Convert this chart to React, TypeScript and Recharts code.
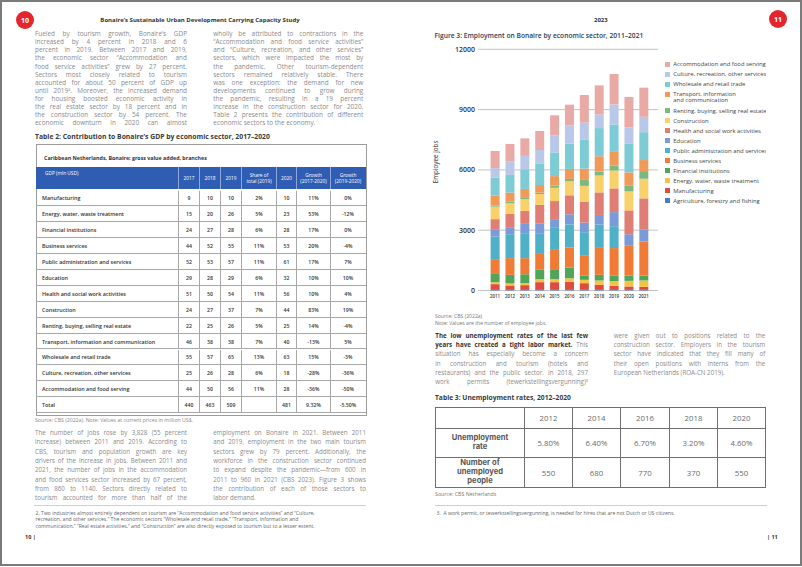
import React from 'react';
import { BarChart, Bar, XAxis, YAxis, CartesianGrid, Legend } from 'recharts';

// ---------- Figure 3 data (employee jobs) ----------
const years = ['2011', '2012', '2013', '2014', '2015', '2016', '2017', '2018', '2019', '2020', '2021'];
const agriculture = [30, 30, 30, 30, 30, 30, 30, 30, 30, 30, 30];
const manufacturing = [285, 220, 235, 385, 385, 410, 335, 250, 200, 170, 150];
const energy = [100, 100, 100, 150, 150, 170, 165, 220, 235, 280, 320];
const financial = [445, 430, 445, 465, 495, 530, 200, 280, 265, 265, 245];
const business = [665, 830, 800, 830, 960, 1000, 995, 1340, 1380, 1480, 1695];
const publicAdmin = [1165, 1190, 1240, 960, 1130, 1150, 1175, 1160, 1090, 0, 0];
const education = [330, 350, 465, 500, 400, 500, 480, 480, 700, 575, 600];
const health = [530, 660, 645, 940, 900, 945, 1025, 1120, 1180, 1185, 1545];
const construction = [620, 530, 580, 540, 660, 700, 800, 840, 890, 945, 975];
const renting = [60, 85, 65, 70, 110, 115, 330, 200, 250, 280, 380];
const transport = [490, 445, 450, 380, 470, 500, 530, 760, 710, 665, 550];
const wholesale = [900, 880, 975, 1050, 1160, 1260, 1430, 1400, 1330, 1425, 1385];
const culture = [470, 660, 665, 690, 860, 900, 860, 680, 995, 815, 765];
const accommodation = [850, 880, 875, 945, 1005, 1035, 1370, 1445, 1515, 1510, 1450];
const yTicks = [0, 3000, 6000, 9000, 12000];

const seriesValues: Record<string, number[]> = {
  agriculture, manufacturing, energy, financial, business, publicAdmin, education,
  health, construction, renting, transport, wholesale, culture, accommodation,
};

const series = [
  { key: 'agriculture', name: 'Agriculture, forestry and fishing', color: '#4a7acb' },
  { key: 'manufacturing', name: 'Manufacturing', color: '#de4b3f' },
  { key: 'energy', name: 'Energy, water, waste treatment', color: '#f6c244' },
  { key: 'financial', name: 'Financial institutions', color: '#4fa65b' },
  { key: 'business', name: 'Business services', color: '#ef7b37' },
  { key: 'publicAdmin', name: 'Public administration and services', color: '#4fb1c7' },
  { key: 'education', name: 'Education', color: '#7a9bd7' },
  { key: 'health', name: 'Health and social work activities', color: '#e07d74' },
  { key: 'construction', name: 'Construction', color: '#f9d16a' },
  { key: 'renting', name: 'Renting, buying, selling real estate', color: '#7db87f' },
  { key: 'transport', name: 'Transport, information|and communication', color: '#f19a57' },
  { key: 'wholesale', name: 'Wholesale and retail trade', color: '#7dcbd5' },
  { key: 'culture', name: 'Culture, recreation, other services', color: '#b9c8e8' },
  { key: 'accommodation', name: 'Accommodation and food serving', color: '#e9aaa6' },
];

const chartData = years.map((y, i) => {
  const row: Record<string, any> = { year: y };
  series.forEach((s) => { row[s.key] = seriesValues[s.key][i]; });
  return row;
});

// ---------- Table 2 data ----------
const gdpSectors = ['Manufacturing', 'Energy, water, waste treatment', 'Financial institutions', 'Business services',
  'Public administration and services', 'Education', 'Health and social work activities', 'Construction',
  'Renting, buying, selling real estate', 'Transport, information and communication', 'Wholesale and retail trade',
  'Culture, recreation, other services', 'Accommodation and food serving', 'Total'];
const gdp2017 = ['9', '15', '24', '44', '52', '29', '51', '24', '22', '46', '55', '25', '44', '440'];
const gdp2018 = ['10', '20', '27', '52', '53', '28', '50', '27', '25', '38', '57', '26', '50', '463'];
const gdp2019 = ['10', '26', '28', '55', '57', '29', '54', '37', '26', '38', '65', '28', '56', '509'];
const share2019 = ['2%', '5%', '6%', '11%', '11%', '6%', '11%', '7%', '5%', '7%', '13%', '6%', '11%', ''];
const gdp2020 = ['10', '23', '28', '53', '61', '32', '56', '44', '25', '40', '63', '18', '28', '481'];
const growth1720 = ['11%', '53%', '17%', '20%', '17%', '10%', '10%', '83%', '14%', '-13%', '15%', '-28%', '-36%', '9.32%'];
const growth1920 = ['0%', '-12%', '0%', '-4%', '7%', '10%', '4%', '19%', '-4%', '5%', '-3%', '-36%', '-50%', '-5.50%'];
const gdpHeaders = ['GDP (mln USD)', '2017', '2018', '2019', 'Share of|total (2019)', '2020', 'Growth|(2017-2020)', 'Growth|(2019-2020)'];

// ---------- Table 3 data ----------
const unempYears = ['2012', '2014', '2016', '2018', '2020'];
const unempRate = ['5.80%', '6.40%', '6.70%', '3.20%', '4.60%'];
const unempPeople = ['550', '680', '770', '370', '550'];

// ---------- Texts ----------
const textTopLeft = [
  'Fueled by tourism growth, Bonaire\u2019s GDP',
  'increased by 4 percent in 2018 and 6',
  'percent in 2019. Between 2017 and 2019,',
  'the economic sector \u201cAccommodation and',
  'food service activities\u201d grew by 27 percent.',
  'Sectors most closely related to tourism',
  'accounted for about 50 percent of GDP up',
  'until 2019\u00b2. Moreover, the increased demand',
  'for housing boosted economic activity in',
  'the real estate sector by 18 percent and in',
  'the construction sector by 54 percent. The',
  'economic downturn in 2020 can almost',
];
const textTopRight = [
  'wholly be attributed to contractions in the',
  '\u201cAccommodation and food service activities\u201d',
  'and \u201cCulture, recreation, and other services\u201d',
  'sectors, which were impacted the most by',
  'the pandemic. Other tourism-dependent',
  'sectors remained relatively stable. There',
  'was one exception: the demand for new',
  'developments continued to grow during',
  'the pandemic, resulting in a 19 percent',
  'increase in the construction sector for 2020.',
  'Table 2 presents the contribution of different',
  'economic sectors to the economy.',
];
const textBottomLeft = [
  'The number of jobs rose by 3,828 (55 percent',
  'increase) between 2011 and 2019. According to',
  'CBS, tourism and population growth are key',
  'drivers of the increase in jobs. Between 2011 and',
  '2021, the number of jobs in the accommodation',
  'and food services sector increased by 67 percent,',
  'from 860 to 1140. Sectors directly related to',
  'tourism accounted for more than half of the',
];
const textBottomRight = [
  'employment on Bonaire in 2021. Between 2011',
  'and 2019, employment in the two main tourism',
  'sectors grew by 79 percent. Additionally, the',
  'workforce in the construction sector continued',
  'to expand despite the pandemic\u2014from 600 in',
  '2011 to 960 in 2021 (CBS 2023). Figure 3 shows',
  'the contribution of each of those sectors to',
  'labor demand.',
];
const textP11Left = [
  '^The ^low ^unemployment ^rates ^of ^the ^last ^few',
  '^years ^have ^created ^a ^tight ^labor ^market. This',
  'situation has especially become a concern',
  'in construction and tourism (hotels and',
  'restaurants) and the public sector. In 2018, 297',
  'work permits (tewerkstellingsvergunning)\u00b3',
];
const textP11Right = [
  'were given out to positions related to the',
  'construction sector. Employers in the tourism',
  'sector have indicated that they fill many of',
  'their open positions with interns from the',
  'European Netherlands (ROA-CN 2019).',
];
const footLeft = [
  '2. Two industries almost entirely dependent on tourism are \u201cAccommodation and food service activities\u201d and \u201cCulture,',
  'recreation, and other services.\u201d The economic sectors \u201cWholesale and retail trade,\u201d \u201cTransport, information and',
  'communication,\u201d \u201cReal estate activities,\u201d and \u201cConstruction\u201d are also directly exposed to tourism but to a lesser extent.',
];

const FONT = "'Open Sans', sans-serif";

function renderWord(w: string) {
  if (w.startsWith('^')) return <b style={{ color: '#333', fontWeight: 700 }}>{w.slice(1)}</b>;
  return w;
}

function TextLine({ text, justify, lh }: { text: string; justify: boolean; lh: number }) {
  const words = text.split(' ');
  if (!justify) {
    return (
      <div style={{ whiteSpace: 'nowrap', height: lh }}>
        {words.map((w, i) => <React.Fragment key={i}>{i > 0 ? ' ' : ''}{renderWord(w)}</React.Fragment>)}
      </div>
    );
  }
  return (
    <div style={{ display: 'flex', justifyContent: 'space-between', whiteSpace: 'nowrap', height: lh }}>
      {words.map((w, i) => <span key={i}>{renderWord(w)}</span>)}
    </div>
  );
}

function Para({ lines, left, top, width, lh, fs, color = '#8a8a8a', lastJustify = false }:
  { lines: string[]; left: number; top: number; width: number; lh: number; fs: number; color?: string; lastJustify?: boolean }) {
  return (
    <div style={{ position: 'absolute', left, top, width, fontSize: fs, lineHeight: `${lh}px`, color }}>
      {lines.map((ln, i) => (
        <TextLine key={i} text={ln} lh={lh} justify={lastJustify || i < lines.length - 1} />
      ))}
    </div>
  );
}

function Abs({ left, top, children, style }: { left: number; top: number; children: any; style?: React.CSSProperties }) {
  return <div style={{ position: 'absolute', left, top, whiteSpace: 'nowrap', ...style }}>{children}</div>;
}

function Circle({ cx, cy, label }: { cx: number; cy: number; label: string }) {
  const d = 18;
  return (
    <div style={{
      position: 'absolute', left: cx - d / 2, top: cy - d / 2, width: d, height: d, borderRadius: '50%',
      background: '#e3262d', color: '#fff', fontSize: 7, fontWeight: 700, display: 'flex',
      alignItems: 'center', justifyContent: 'center',
    }}>{label}</div>
  );
}

function YLabel(props: any) {
  const vb = props.viewBox || { x: 0, y: 0, width: 0, height: 0 };
  const cx = vb.x + 5.5;
  const cy = vb.y + vb.height / 2 - 8;
  return (
    <text x={cx} y={cy} transform={`rotate(-90 ${cx} ${cy})`} textAnchor="middle" dominantBaseline="central"
      fontSize={6.3} fill="#333" fontFamily={FONT}>Employee jobs</text>
  );
}

function LegendBox() {
  const items = [...series].reverse();
  return (
    <div style={{ width: 101, overflow: 'hidden', fontFamily: FONT, fontSize: 5.9, color: '#444' }}>
      {items.map((s) => {
        const parts = s.name.split('|');
        return (
          <div key={s.key} style={{ display: 'flex', alignItems: 'flex-start', height: parts.length > 1 ? 16.7 : 10 }}>
            <div style={{ width: 5, height: 5, background: s.color, marginTop: 2.5, flex: '0 0 5px' }} />
            <div style={{ marginLeft: 3.3, lineHeight: parts.length > 1 ? '6.7px' : '10px', whiteSpace: 'nowrap', marginTop: parts.length > 1 ? 1.7 : 0 }}>
              {parts.map((p, i) => <div key={i}>{p}</div>)}
            </div>
          </div>
        );
      })}
    </div>
  );
}

function Figure3() {
  return (
    <div style={{ position: 'absolute', left: 430, top: 40 }}>
      <BarChart width={372} height={270} data={chartData} margin={{ top: 9.3, right: 144, bottom: 0, left: 0 }}>
        <CartesianGrid vertical={false} stroke="#c2c2c2" strokeWidth={1} />
        <XAxis dataKey="year" height={19.5} tickLine={false} axisLine={false} tickSize={0} tickMargin={4}
          padding={{ left: 9.6, right: 6.8 }} interval={0}
          tick={{ fontSize: 4.4, fill: '#333', fontWeight: 600, fontFamily: FONT }} />
        <YAxis width={48} domain={[0, 12000]} ticks={yTicks} tickLine={false} axisLine={false} tickSize={0}
          tickMargin={3} interval={0} tick={{ fontSize: 7, fill: '#333', fontWeight: 600, fontFamily: FONT }}
          label={<YLabel />} />
        <Legend layout="vertical" align="center" verticalAlign="middle"
          wrapperStyle={{ left: 235, top: 19, width: 101, height: 186 }} content={() => <LegendBox />} />
        {series.map((s) => (
          <Bar key={s.key} dataKey={s.key} name={s.name} stackId="a" fill={s.color} barSize={9}
            isAnimationActive={false} />
        ))}
      </BarChart>
    </div>
  );
}

function Table2() {
  const cols = [36, 178, 199, 220, 241, 276, 296, 330, 365];
  const cols2 = [gdp2017, gdp2018, gdp2019, share2019, gdp2020, growth1720, growth1920];
  const headTop = 167;
  const headBottom = 189;
  const rowTop = 190.5;
  const rowH = 15.9;
  const line = '#a8a8a8';
  return (
    <>
      <div style={{ position: 'absolute', left: 36, top: 144, width: 329, height: 269.5, border: '1px solid #9c9c9c', background: '#fff' }} />
      <Abs left={44} top={154.5} style={{ fontSize: 5.3, fontWeight: 700, color: '#333', lineHeight: '7px' }}>
        Caribbean Netherlands, Bonaire; gross value added, branches
      </Abs>
      <div style={{ position: 'absolute', left: cols[0], top: headTop, width: cols[8] - cols[0] + 1, height: headBottom - headTop, background: '#2f5db3' }} />
      {gdpHeaders.map((h, i) => {
        const parts = h.split('|');
        const l = cols[i];
        const w = cols[i + 1] - cols[i];
        return (
          <div key={i} style={{
            position: 'absolute', left: l, top: headTop, width: w, height: headBottom - headTop,
            borderLeft: i > 0 ? '1px solid #8fa7d8' : 'none', boxSizing: 'border-box',
            color: '#fff', fontSize: 4.8, fontWeight: 500, lineHeight: '6.3px',
            display: 'flex', flexDirection: 'column', justifyContent: i === 0 ? 'flex-start' : 'center',
            alignItems: i === 0 ? 'flex-start' : 'center', paddingLeft: i === 0 ? 9 : 0, paddingTop: i === 0 ? 2.5 : 0,
          }}>
            {parts.map((p, j) => <div key={j} style={{ whiteSpace: 'nowrap' }}>{p}</div>)}
          </div>
        );
      })}
      {gdpSectors.map((s, r) => {
        const top = rowTop + r * rowH;
        return (
          <React.Fragment key={r}>
            <div style={{ position: 'absolute', left: cols[0], top, width: cols[8] - cols[0] + 1, height: rowH, borderBottom: `1px solid ${line}`, boxSizing: 'border-box' }} />
            <div style={{ position: 'absolute', left: 42, top, height: rowH, display: 'flex', alignItems: 'center', fontSize: 5.4, fontWeight: 600, color: '#333', whiteSpace: 'nowrap' }}>{s}</div>
            {cols2.map((c, ci) => (
              <div key={ci} style={{
                position: 'absolute', left: cols[ci + 1], top, width: cols[ci + 2] - cols[ci + 1], height: rowH,
                borderLeft: `1px solid ${line}`, boxSizing: 'border-box', display: 'flex', alignItems: 'center',
                justifyContent: 'center', fontSize: 5.2, fontWeight: 600, color: '#333',
              }}>{c[r]}</div>
            ))}
          </React.Fragment>
        );
      })}
    </>
  );
}

function Table3() {
  const cols = [435, 524, 572, 620, 669, 717, 765];
  const rows = [407, 427.5, 457, 487.3];
  const border = '1px solid #6f6f6f';
  const cells: any[] = [];
  const labelFont = "Inter, 'Open Sans', sans-serif";
  for (let r = 0; r < 3; r++) {
    for (let c = 0; c < 6; c++) {
      let content: any = '';
      let st: React.CSSProperties = { fontSize: 7.8, color: '#6a6a6a' };
      if (r === 0 && c > 0) content = unempYears[c - 1];
      if (r === 1) content = c === 0 ? ['Unemployment', 'rate'] : unempRate[c - 1];
      if (r === 2) content = c === 0 ? ['Number of', 'unemployed', 'people'] : unempPeople[c - 1];
      if (c === 0) st = { fontSize: 7.6, fontWeight: 700, color: '#555', fontFamily: labelFont };
      const body = Array.isArray(content)
        ? <div>{content.map((t: string, k: number) => <div key={k} style={{ height: 8.9, lineHeight: '8.9px', whiteSpace: 'nowrap' }}>{t}</div>)}</div>
        : content;
      cells.push(
        <div key={`${r}-${c}`} style={{
          position: 'absolute', left: cols[c], top: rows[r], width: cols[c + 1] - cols[c] + 1, height: rows[r + 1] - rows[r] + 1,
          border, boxSizing: 'border-box', display: 'flex', alignItems: 'center', justifyContent: 'center',
          textAlign: 'center', ...st,
        }}>{body}</div>
      );
    }
  }
  return <>{cells}</>;
}

export default function App() {
  return (
    <div style={{ position: 'absolute', left: 0, top: 0, width: 802, height: 567, background: '#fff', fontFamily: FONT, overflow: 'hidden' }}>
      <div style={{ position: 'absolute', left: 0, top: 0, width: 802, height: 566, border: '2px solid #7b7b7b', boxSizing: 'border-box' }} />

      {/* Left page */}
      <Circle cx={25} cy={20} label="10" />
      <Abs left={0} top={16} style={{ width: 400, textAlign: 'center', fontSize: 6, fontWeight: 700, color: '#333', lineHeight: '8px' }}>
        Bonaire&#8217;s Sustainable Urban Development Carrying Capacity Study
      </Abs>
      <Para lines={textTopLeft} left={35} top={30.2} width={152} lh={8.1} fs={6.4} lastJustify />
      <Para lines={textTopRight} left={213.3} top={30.2} width={150} lh={8.1} fs={6.4} />
      <Abs left={35} top={132.5} style={{ fontSize: 6.8, fontWeight: 700, color: '#3a3a3a', lineHeight: '8px' }}>
        Table 2: Contribution to Bonaire&#8217;s GDP by economic sector, 2017&#8211;2020
      </Abs>
      <Table2 />
      <Abs left={35} top={416.5} style={{ fontSize: 5.2, color: '#888', lineHeight: '7px' }}>
        Source: CBS (2022a). Note: Values at current prices in million US$.
      </Abs>
      <Para lines={textBottomLeft} left={35} top={427.9} width={152} lh={9.35} fs={6.2} lastJustify />
      <Para lines={textBottomRight} left={213.3} top={427.9} width={152.7} lh={9.35} fs={6.2} />
      <div style={{ position: 'absolute', left: 34, top: 505, width: 332, height: 1, background: '#cfcfcf' }} />
      <div style={{ position: 'absolute', left: 35.5, top: 509.5, fontSize: 5.1, color: '#666', lineHeight: '6.5px', whiteSpace: 'nowrap' }}>
        {footLeft.map((l, i) => <div key={i}>{l}</div>)}
      </div>
      <Abs left={25} top={534} style={{ fontSize: 5.5, fontWeight: 700, color: '#333', lineHeight: '7px' }}>10 |</Abs>

      {/* Right page */}
      <Abs left={594} top={16} style={{ fontSize: 6, fontWeight: 700, color: '#333', lineHeight: '8px' }}>2023</Abs>
      <Circle cx={778} cy={19} label="11" />
      <Abs left={434.5} top={31.5} style={{ fontSize: 6.7, fontWeight: 600, color: '#2e3b4e', lineHeight: '8px' }}>
        Figure 3: Employment on Bonaire by economic sector, 2011&#8211;2021
      </Abs>
      <Figure3 />
      <Abs left={435} top={312.5} style={{ fontSize: 5.1, color: '#777', lineHeight: '7.8px' }}>
        Source: CBS (2022a)<br />Note: Values are the number of employee jobs.
      </Abs>
      <Para lines={textP11Left} left={435.3} top={331.1} width={152.7} lh={9.2} fs={6.2} lastJustify />
      <Para lines={textP11Right} left={613.7} top={331.1} width={151.6} lh={9.2} fs={6.2} />
      <Abs left={435} top={394.3} style={{ fontSize: 6.7, fontWeight: 700, color: '#3a3a3a', lineHeight: '8px' }}>
        Table 3: Unemployment rates, 2012&#8211;2020
      </Abs>
      <Table3 />
      <Abs left={435} top={490.5} style={{ fontSize: 5.3, color: '#777', lineHeight: '7px' }}>Source: CBS Netherlands</Abs>
      <div style={{ position: 'absolute', left: 435, top: 505, width: 332, height: 1, background: '#cfcfcf' }} />
      <Abs left={436.5} top={509.5} style={{ fontSize: 5.1, color: '#666', lineHeight: '7px' }}>
        3.&nbsp; A work permit, or tewerkstellingsvergunning, is needed for hires that are not Dutch or US citizens.
      </Abs>
      <Abs left={767} top={534} style={{ fontSize: 5.5, fontWeight: 700, color: '#333', lineHeight: '7px' }}>| 11</Abs>
    </div>
  );
}
